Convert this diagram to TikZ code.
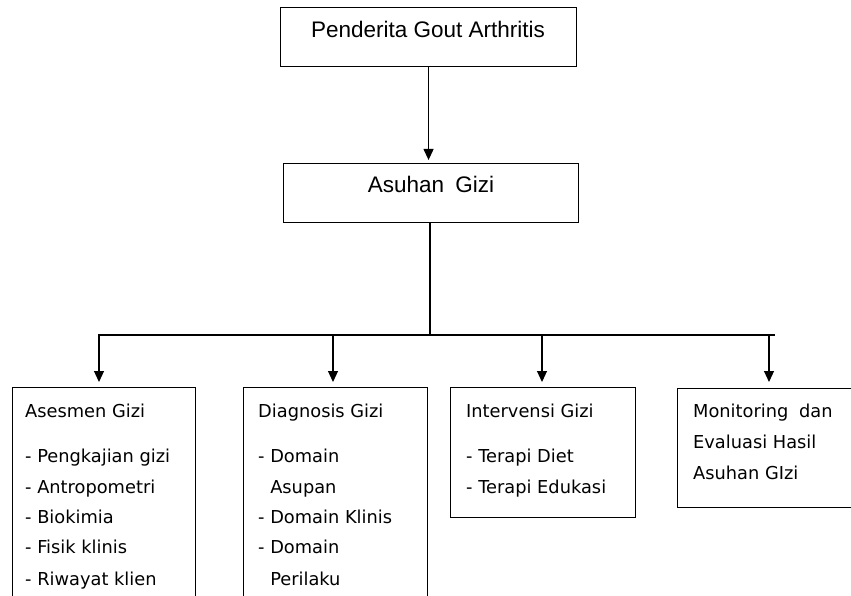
\documentclass[tikz,border=0pt]{standalone}
\usepackage{fontspec}
\setmainfont{Liberation Sans}
\newfontfamily\boxfont{DejaVu Sans}
\usetikzlibrary{arrows.meta}
\begin{document}
\begin{tikzpicture}[x=1pt,y=-1pt,
 box/.style={draw,line width=1.1pt,inner sep=0pt,anchor=north west},
 title/.style={font=\fontsize{22.5}{26}\selectfont,inner sep=0pt,anchor=base},
 item/.style={font=\boxfont\fontsize{17.8}{20}\selectfont,inner sep=0pt,anchor=base west},
 conn/.style={line width=1.1pt},
 arr/.style={conn,-{Triangle[width=10pt,length=11pt]}}]
\useasboundingbox (0,0) rectangle (851,596);
\clip (0,0) rectangle (851,596);
% boxes
\node[box,minimum width=296pt,minimum height=59pt] (pen) at (280,7) {};
\node[box,minimum width=295pt,minimum height=59pt] (asu) at (283,163) {};
\node[box,minimum width=183pt,minimum height=260pt] (b1) at (12,387) {};
\node[box,minimum width=184pt,minimum height=260pt] (b2) at (243,387) {};
\node[box,minimum width=185pt,minimum height=130pt] (b3) at (450,387) {};
\node[box,minimum width=193pt,minimum height=119pt] (b4) at (677,388) {};
% titles
\node[title] (tpen) at (428,38) {Penderita Gout Arthritis};
\node[title] (tasu) at (431,193) {Asuhan\hspace{5pt} Gizi};
% box 1
\node[item] (a0) at (25,417) {Asesmen Gizi};
\node[item] (a1) at (25,462) {- Pengkajian gizi};
\node[item] (a2) at (25,493) {- Antropometri};
\node[item] (a3) at (25,523) {- Biokimia};
\node[item] (a4) at (25,553) {- Fisik klinis};
\node[item] (a5) at (25,585) {- Riwayat klien};
% box 2
\node[item] (d0) at (258,417) {Diagnosis Gizi};
\node[item] (d1) at (258,462) {- Domain};
\node[item] (d2) at (258,493) {\phantom{- }Asupan};
\node[item] (d3) at (258,523) {- Domain Klinis};
\node[item] (d4) at (258,553) {- Domain};
\node[item] (d5) at (258,585) {\phantom{- }Perilaku};
% box 3
\node[item] (i0) at (466,417) {Intervensi Gizi};
\node[item] (i1) at (466,462) {- Terapi Diet};
\node[item] (i2) at (466,493) {- Terapi Edukasi};
% box 4
\node[item] (m0) at (693,417) {Monitoring\hspace{5pt} dan};
\node[item] (m1) at (693,448) {Evaluasi Hasil};
\node[item] (m2) at (693,479) {Asuhan GIzi};
% connectors
\draw[arr,shorten >=3pt] (pen.south) -- (pen.south |- asu.north);
\coordinate (jc) at (430,335);
\coordinate (jl) at (98,335);
\coordinate (jr) at (775,335);
\draw[conn] (asu.south -| jc) -- (jc);
\draw[conn] (jl) -- (jr);
\coordinate (k1) at (99,335);
\coordinate (k2) at (333,335);
\coordinate (k3) at (542,335);
\coordinate (k4) at (769,335);
\draw[arr,shorten >=5pt] (k1) -- (k1 |- b1.north);
\draw[arr,shorten >=5pt] (k2) -- (k2 |- b2.north);
\draw[arr,shorten >=5pt] (k3) -- (k3 |- b3.north);
\draw[arr,shorten >=6pt] (k4) -- (k4 |- b4.north);
\end{tikzpicture}
\end{document}
